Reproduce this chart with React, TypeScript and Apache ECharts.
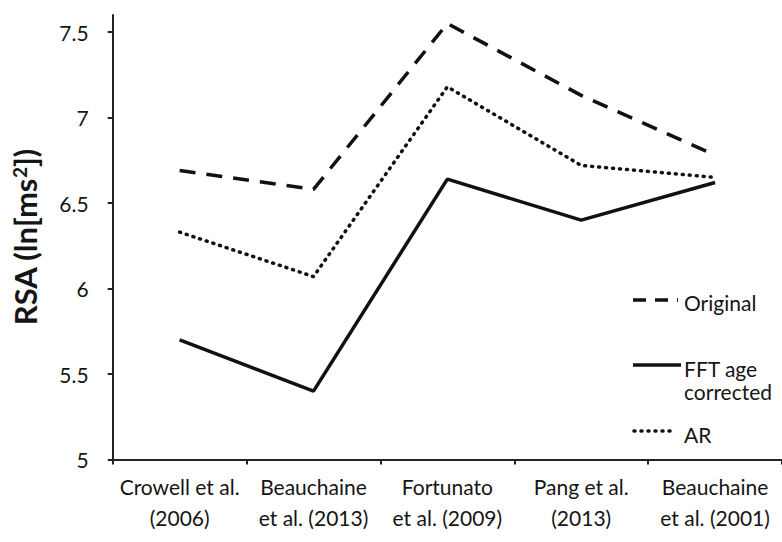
import React, { useEffect, useRef } from "react";
import * as echarts from "echarts";

const categories = [
  "Crowell et al.\n(2006)",
  "Beauchaine\net al. (2013)",
  "Fortunato\net al. (2009)",
  "Pang et al.\n(2013)",
  "Beauchaine\net al. (2001)",
];
const seriesNames = ["Original", "FFT age corrected", "AR"];
const originalValues = [6.69, 6.58, 7.55, 7.13, 6.78];
const fftAgeCorrectedValues = [5.7, 5.4, 6.64, 6.4, 6.62];
const arValues = [6.33, 6.07, 7.18, 6.72, 6.65];
const yTicks = [5, 5.5, 6, 6.5, 7, 7.5];
const legendLabels = ["Original", "FFT age", "corrected", "AR"];

const FONT = "Lato";
const INK = "#111";
const TEXT = "#151515";

export default function App() {
  const ref = useRef<HTMLDivElement>(null);
  useEffect(() => {
    if (!ref.current) return;
    const chart = echarts.init(ref.current, null, { renderer: "svg" });
    const dashed = [16, 11];
    const dotted = [1, 6];
    const styles = [
      { type: dashed, cap: "butt" },
      { type: "solid", cap: "butt" },
      { type: dotted, cap: "round" },
    ];
    const valuesList = [originalValues, fftAgeCorrectedValues, arValues];
    const legendFont = `21px ${FONT}`;
    const option: any = {
      animation: false,
      backgroundColor: "#fff",
      grid: { left: 112.7, top: 15, width: 674, height: 444.5, containLabel: false },
      xAxis: {
        type: "category",
        data: categories,
        boundaryGap: true,
        axisLine: { show: true, lineStyle: { color: "#222", width: 2 } },
        axisTick: { show: true, length: 5, lineStyle: { color: "#222", width: 2 } },
        axisLabel: {
          interval: 0,
          margin: 11,
          color: TEXT,
          fontFamily: FONT,
          fontSize: 21,
          lineHeight: 31,
          align: "center",
        },
        splitLine: { show: false },
      },
      yAxis: {
        type: "value",
        min: 5,
        max: 7.6,
        interval: 0.5,
        name: "{a|RSA (ln[ms}{s|2}{a|])}",
        nameLocation: "middle",
        nameGap: 72,
        nameRotate: 90,
        nameTextStyle: {
          rich: {
            a: { fontFamily: FONT, fontWeight: "bold", fontSize: 31, color: TEXT },
            s: { fontFamily: FONT, fontWeight: "bold", fontSize: 19, color: TEXT, verticalAlign: "top", padding: [0, 0, 12, 0] },
          },
        },
        axisLine: { show: true, lineStyle: { color: "#222", width: 2 } },
        axisTick: { show: true, length: 5, customValues: yTicks, lineStyle: { color: "#222", width: 2 } },
        axisLabel: {
          customValues: yTicks,
          margin: 24,
          color: TEXT,
          fontFamily: FONT,
          fontSize: 21,
        },
        splitLine: { show: false },
      },
      series: seriesNames.map((name, i) => ({
        name,
        type: "line",
        data: valuesList[i],
        symbol: "none",
        lineStyle: { color: INK, width: 3.5, type: styles[i].type, cap: styles[i].cap },
      })),
      graphic: [
        { type: "line", shape: { x1: 633, y1: 300, x2: 678, y2: 300 }, style: { stroke: INK, lineWidth: 3.5, lineDash: [13, 9] } },
        { type: "text", x: 684, y: 302, style: { text: legendLabels[0], fill: TEXT, font: legendFont, verticalAlign: "middle" } },
        { type: "line", shape: { x1: 633, y1: 365, x2: 681, y2: 365 }, style: { stroke: INK, lineWidth: 3.5 } },
        { type: "text", x: 684, y: 368, style: { text: legendLabels[1], fill: TEXT, font: legendFont, verticalAlign: "middle" } },
        { type: "text", x: 684, y: 391, style: { text: legendLabels[2], fill: TEXT, font: legendFont, verticalAlign: "middle" } },
        { type: "line", shape: { x1: 634, y1: 431, x2: 676, y2: 431 }, style: { stroke: INK, lineWidth: 3.5, lineDash: dotted, lineCap: "round" } },
        { type: "text", x: 684, y: 434, style: { text: legendLabels[3], fill: TEXT, font: legendFont, verticalAlign: "middle" } },
      ],
    };
    chart.setOption(option);
    return () => chart.dispose();
  }, []);
  return <div ref={ref} style={{ position: "fixed", left: 0, top: 0, width: 782, height: 542 }} />;
}
